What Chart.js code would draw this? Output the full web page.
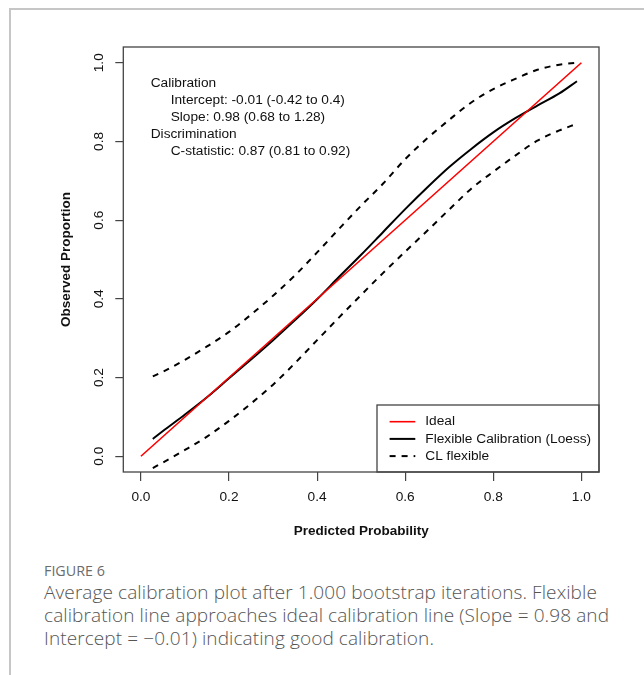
<!DOCTYPE html>
<html>
<head>
<meta charset="utf-8">
<script src="https://cdn.jsdelivr.net/npm/chart.js@4.4.1/dist/chart.umd.min.js"></script>
<style>
  html, body { margin: 0; padding: 0; background: #fff; }
  body { width: 644px; height: 675px; position: relative; overflow: hidden; }
  .frame {
    position: absolute; left: 9px; top: 8px; right: 0; bottom: 0;
    border-top: 2px solid #c6c6c6; border-left: 2px solid #c6c6c6;
  }
  #calib { position: absolute; left: 0; top: 0; }
  .fig-label {
    position: absolute; left: 44px; top: 561px;
    font: 14.3px 'Open Sans', sans-serif; color: #6b6b6b;
  }
  .fig-caption {
    position: absolute; left: 44px; top: 581px; white-space: nowrap;
    font: 300 19px/23px 'Open Sans', sans-serif; color: #555; letter-spacing: 0.1px;
  }
</style>
</head>
<body>
<div class="frame"></div>
<canvas id="calib" width="644" height="550"></canvas>
<div class="fig-label">FIGURE 6</div>
<div class="fig-caption">Average calibration plot after 1.000 bootstrap iterations. Flexible<br>calibration line approaches ideal calibration line (Slope = 0.98 and<br>Intercept = &minus;0.01) indicating good calibration.</div>
<script>
// Values
const probX  = [0.027, 0.05, 0.1, 0.15, 0.2, 0.25, 0.3, 0.35, 0.4, 0.45, 0.5,
                0.55, 0.6, 0.65, 0.7, 0.75, 0.8, 0.85, 0.9, 0.95, 0.99];
const loessY = [0.044, 0.064, 0.106, 0.150, 0.198, 0.246, 0.295, 0.346, 0.399, 0.456, 0.512,
                0.570, 0.628, 0.683, 0.735, 0.781, 0.823, 0.859, 0.891, 0.922, 0.953];
const upperY = [0.203, 0.215, 0.245, 0.279, 0.316, 0.360, 0.408, 0.460, 0.518, 0.578, 0.637,
                0.693, 0.755, 0.808, 0.855, 0.899, 0.933, 0.959, 0.982, 0.995, 1.000];
const lowerY = [-0.030, -0.016, 0.016, 0.050, 0.090, 0.134, 0.182, 0.237, 0.295, 0.353, 0.410,
                0.466, 0.520, 0.573, 0.627, 0.680, 0.723, 0.764, 0.802, 0.828, 0.845];
const idealX = [0, 1];
const idealY = [0, 1];
const tickValues = [0, 0.2, 0.4, 0.6, 0.8, 1.0];
const legendLabels = ['Ideal', 'Flexible Calibration (Loess)', 'CL flexible'];
const statLines = [
    ['Calibration', 0],
    ['Intercept: -0.01 (-0.42 to 0.4)', 1],
    ['Slope: 0.98 (0.68 to 1.28)', 1],
    ['Discrimination', 0],
    ['C-statistic: 0.87 (0.81 to 0.92)', 1]
];

const rFont = "'Liberation Sans', Arial, sans-serif";
const ink = '#111';
const pts = (xs, ys) => xs.map((x, i) => ({ x, y: ys[i] }));

// R-like box, rotated y labels, stats text and legend
const rStyle = {
    id: 'rStyle',
    afterDatasetsDraw(chart) {
        const { ctx, chartArea: a, scales } = chart;
        ctx.save();

        // y tick labels, parallel to the axis
        ctx.fillStyle = ink;
        ctx.font = `13.7px ${rFont}`;
        ctx.textAlign = 'center';
        ctx.textBaseline = 'middle';
        tickValues.forEach(v => {
            const py = scales.y.getPixelForValue(v);
            ctx.save();
            ctx.translate(a.left - 24, py);
            ctx.rotate(-Math.PI / 2);
            ctx.fillText(v.toFixed(1), 0, 0);
            ctx.restore();
        });

        // stats block
        ctx.textAlign = 'left';
        statLines.forEach(([txt, indent], i) => {
            ctx.fillText(txt, a.left + 27.4 + indent * 20, a.top + 36.6 + i * 17);
        });

        // legend (bottom right)
        const w = 222, h = 67;
        const lx = a.right - w, ly = a.bottom - h;
        ctx.fillStyle = '#fff';
        ctx.fillRect(lx, ly, w, h);
        ctx.strokeStyle = '#444';
        ctx.lineWidth = 1.3;
        ctx.strokeRect(lx, ly, w, h);
        legendLabels.forEach((lab, i) => {
            const ds = chart.data.datasets[i];
            const y = ly + 16.7 + i * 17.2;
            ctx.strokeStyle = ds.borderColor;
            ctx.lineWidth = ds.borderWidth;
            ctx.setLineDash(ds.borderDash || []);
            ctx.beginPath();
            ctx.moveTo(lx + 12.6, y);
            ctx.lineTo(lx + 38.3, y);
            ctx.stroke();
            ctx.setLineDash([]);
            ctx.fillStyle = ink;
            ctx.fillText(lab, lx + 48.3, y);
        });

        // plot box
        ctx.strokeStyle = '#444';
        ctx.lineWidth = 1.3;
        ctx.strokeRect(a.left, a.top, a.right - a.left, a.bottom - a.top);
        ctx.restore();
    }
};

const lineDefaults = { showLine: true, pointRadius: 0, fill: false, cubicInterpolationMode: 'monotone' };

new Chart(document.getElementById('calib'), {
    type: 'scatter',
    data: {
        datasets: [
            { ...lineDefaults, label: 'Ideal', data: pts(idealX, idealY), borderColor: '#ff0000', borderWidth: 1.6 },
            { ...lineDefaults, label: 'Flexible Calibration (Loess)', data: pts(probX, loessY), borderColor: '#000', borderWidth: 2 },
            { ...lineDefaults, label: 'CL flexible', data: pts(probX, upperY), borderColor: '#000', borderWidth: 2, borderDash: [6, 6] },
            { ...lineDefaults, label: 'CL flexible lower', data: pts(probX, lowerY), borderColor: '#000', borderWidth: 2, borderDash: [6, 6] }
        ]
    },
    options: {
        responsive: false,
        animation: false,
        layout: { padding: { left: 0, right: 45, top: 47, bottom: 0 } },
        plugins: {
            legend: { display: false },
            tooltip: { enabled: false }
        },
        scales: {
            x: {
                type: 'linear',
                min: -0.04,
                max: 1.04,
                afterBuildTicks: s => { s.ticks = tickValues.map(v => ({ value: v })); },
                afterFit: s => { s.height = 78; },
                grid: { drawOnChartArea: false, tickLength: 9, color: '#444', lineWidth: 1.2 },
                border: { display: false },
                ticks: {
                    color: ink,
                    font: { family: rFont, size: 13.7 },
                    padding: 8,
                    maxRotation: 0,
                    autoSkip: false,
                    callback: v => v.toFixed(1)
                },
                title: {
                    display: true,
                    text: 'Predicted Probability',
                    color: ink,
                    font: { family: rFont, size: 13.5, weight: 'bold' },
                    padding: { top: 0, bottom: 11 }
                }
            },
            y: {
                type: 'linear',
                min: -0.04,
                max: 1.04,
                afterBuildTicks: s => { s.ticks = tickValues.map(v => ({ value: v })); },
                afterFit: s => { s.width = 123.3; },
                grid: { drawOnChartArea: false, tickLength: 8, color: '#444', lineWidth: 1.2 },
                border: { display: false },
                ticks: { display: false },
                title: {
                    display: true,
                    text: 'Observed Proportion',
                    color: ink,
                    font: { family: rFont, size: 13.5, weight: 'bold' },
                    padding: { top: 58.6, bottom: 0 }
                }
            }
        }
    },
    plugins: [rStyle]
});
</script>
</body>
</html>
